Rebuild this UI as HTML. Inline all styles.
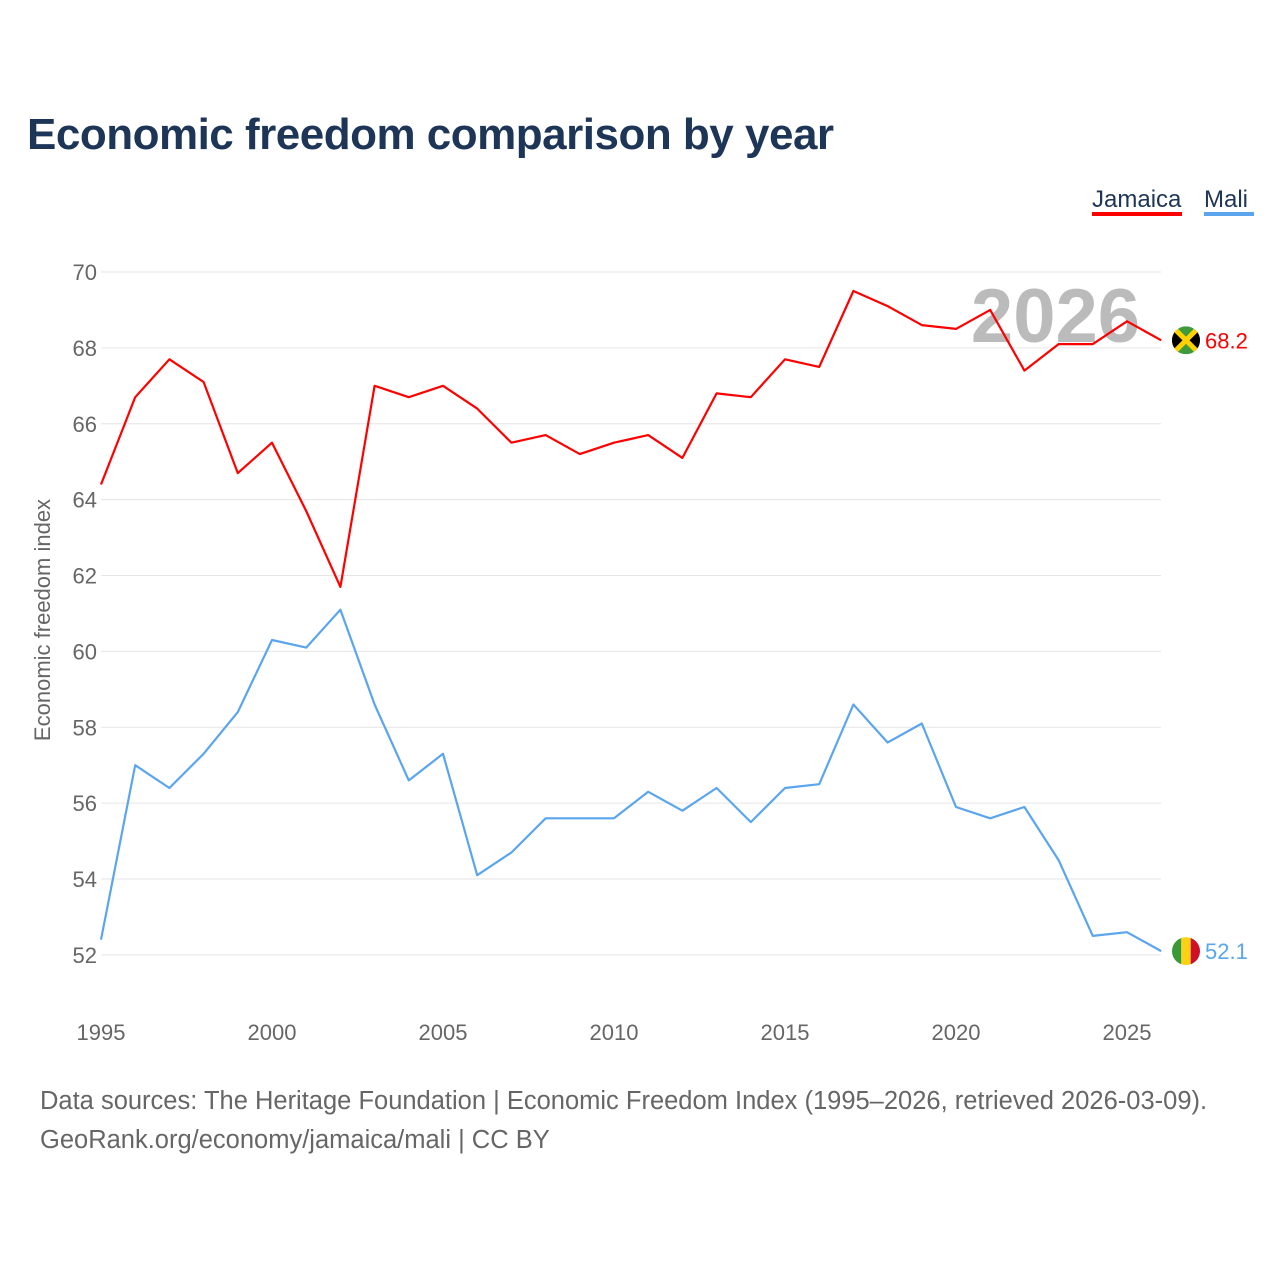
<!DOCTYPE html>
<html><head><meta charset="utf-8">
<style>
html,body{margin:0;padding:0;background:#fff;}
body{width:1280px;height:1280px;position:relative;font-family:"Liberation Sans",sans-serif;overflow:hidden;}
#title{position:absolute;left:27px;top:110px;font-size:44px;font-weight:bold;color:#1d3557;letter-spacing:-0.5px;margin:0;}
.src{position:absolute;left:40px;font-size:25.5px;color:#666;}
</style></head>
<body>
<h1 id="title">Economic freedom comparison by year</h1>
<svg id="chart" width="1280" height="1280" style="position:absolute;left:0;top:0;pointer-events:none"></svg>
<div class="src" style="top:1087px">Data sources: The Heritage Foundation | Economic Freedom Index (1995–2026, retrieved 2026-03-09).</div>
<div class="src" style="top:1126px">GeoRank.org/economy/jamaica/mali | CC BY</div>
<script>
const years=[1995,1996,1997,1998,1999,2000,2001,2002,2003,2004,2005,2006,2007,2008,2009,2010,2011,2012,2013,2014,2015,2016,2017,2018,2019,2020,2021,2022,2023,2024,2025,2026];
const jamaica=[64.4,66.7,67.7,67.1,64.7,65.5,63.7,61.7,67.0,66.7,67.0,66.4,65.5,65.7,65.2,65.5,65.7,65.1,66.8,66.7,67.7,67.5,69.5,69.1,68.6,68.5,69.0,67.4,68.1,68.1,68.7,68.2];
const mali=[52.4,57.0,56.4,57.3,58.4,60.3,60.1,61.1,58.6,56.6,57.3,54.1,54.7,55.6,55.6,55.6,56.3,55.8,56.4,55.5,56.4,56.5,58.6,57.6,58.1,55.9,55.6,55.9,54.5,52.5,52.6,52.1];
const yTicks=[52,54,56,58,60,62,64,66,68,70];
const xTicks=[1995,2000,2005,2010,2015,2020,2025];
const NS="http://www.w3.org/2000/svg";
const svg=document.getElementById('chart');
const x=v=>101+(v-1995)*34.2;
const y=v=>272+(70-v)*37.94;
function mk(t,a,txt,parent){const e=document.createElementNS(NS,t);for(const k in a)e.setAttribute(k,a[k]);if(txt!==undefined)e.textContent=txt;(parent||svg).appendChild(e);return e;}
yTicks.forEach(v=>{
  const g=mk('line',{x1:101,x2:1161,y1:y(v),y2:y(v),stroke:'#e6e6e6','stroke-width':1});
  
  
  const t=mk('text',{x:97,y:y(v)+8,'text-anchor':'end','font-size':22,fill:'#666','font-family':'Liberation Sans'},v);
  
  
});
xTicks.forEach(v=>{
  const t=mk('text',{x:x(v),y:1040,'text-anchor':'middle','font-size':22,fill:'#666','font-family':'Liberation Sans'},v);
  
  
});
const yt=mk('text',{x:0,y:0,transform:'translate(50,620) rotate(-90)','text-anchor':'middle','font-size':22,fill:'#666','font-family':'Liberation Sans'},'Economic freedom index');


const wm=mk('text',{x:1140,y:342,'text-anchor':'end','font-size':76,'font-weight':'bold',fill:'#bbb','font-family':'Liberation Sans'},'2026');


function series(vals,color,name){
  const d=vals.map((v,i)=>(i?'L':'M')+x(years[i]).toFixed(1)+' '+y(v).toFixed(1)).join(' ');
  const p=mk('path',{d:d,fill:'none',stroke:color,'stroke-width':2.2,'stroke-linejoin':'round'});
  
  
  const last=vals[vals.length-1];
  const l=mk('text',{x:1205,y:y(last)+8,'font-size':22,fill:color,'font-family':'Liberation Sans'},last.toFixed(1));
  
  
}
series(jamaica,'#ff0000','jamaica');
series(mali,'#5aa5ee','mali');
const defs=mk('defs',{});
const jy=y(jamaica[jamaica.length-1]);
const my=y(mali[mali.length-1]);
const cp1=mk('clipPath',{id:'cj'},undefined,defs);mk('circle',{cx:1186,cy:jy,r:14},undefined,cp1);
const cp2=mk('clipPath',{id:'cm'},undefined,defs);mk('circle',{cx:1186,cy:my,r:14},undefined,cp2);
const gj=mk('g',{'clip-path':'url(#cj)'});


mk('rect',{x:1172,y:jy-14,width:28,height:28,fill:'#3d9a3d'},undefined,gj);
mk('path',{d:`M1170 ${jy-12} L1186 ${jy} L1170 ${jy+12}Z M1202 ${jy-12} L1186 ${jy} L1202 ${jy+12}Z`,fill:'#000'},undefined,gj);
mk('path',{d:`M1172 ${jy-14} L1200 ${jy+14} M1200 ${jy-14} L1172 ${jy+14}`,stroke:'#fed100','stroke-width':5},undefined,gj);
const gm=mk('g',{'clip-path':'url(#cm)'});


mk('rect',{x:1172,y:my-14,width:9.3,height:28,fill:'#3a9a3a'},undefined,gm);
mk('rect',{x:1181.3,y:my-14,width:9.4,height:28,fill:'#fcd116'},undefined,gm);
mk('rect',{x:1190.7,y:my-14,width:9.3,height:28,fill:'#ce1126'},undefined,gm);
const l1=mk('text',{x:1092,y:207,'font-size':24,fill:'#1d3557','font-family':'Liberation Sans'},'Jamaica');


mk('rect',{x:1092,y:212,width:90,height:4,fill:'#ff0000'});
const l2=mk('text',{x:1204,y:207,'font-size':24,fill:'#1d3557','font-family':'Liberation Sans'},'Mali');


mk('rect',{x:1204,y:212,width:50,height:4,fill:'#5aa5ee'});
</script>
</body></html>
